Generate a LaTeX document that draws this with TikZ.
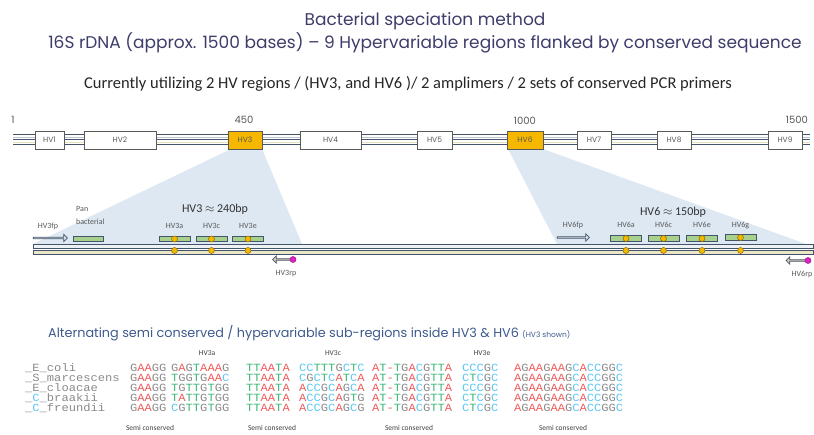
\documentclass[tikz,border=0pt]{standalone}
\usepackage{fontspec}
\setmainfont{Carlito}
\newfontfamily\gothic{Poppins}
\newfontfamily\mono[FakeStretch=1.1]{Liberation Mono}
\usetikzlibrary{shapes.arrows}
\definecolor{titleblue}{HTML}{3D3D6B}
\definecolor{subblue}{HTML}{3E5A8E}
\definecolor{slate}{HTML}{44546A}
\definecolor{slatelt}{HTML}{7A8A9A}
\definecolor{beige}{HTML}{E8E0B8}
\definecolor{railtop}{HTML}{EEF2F4}
\definecolor{railbot}{HTML}{ECE6C8}
\definecolor{hvorange}{HTML}{F5B700}
\definecolor{shadeblue}{HTML}{DDE8F3}
\definecolor{boxgreen}{HTML}{A9D18E}
\definecolor{dotorange}{HTML}{F5B800}
\definecolor{dotedge}{HTML}{8A6A00}
\definecolor{rpmag}{HTML}{E020C0}
\definecolor{fparrow}{HTML}{DDE8EE}
\definecolor{rparrow}{HTML}{E2D8B0}
\definecolor{labgray}{HTML}{595959}
\definecolor{ntA}{HTML}{F25C5C}
\definecolor{ntC}{HTML}{5BC8F5}
\definecolor{ntG}{HTML}{8A8A8A}
\definecolor{ntT}{HTML}{3CB878}
\newcommand\sqseq[1]{\sqloop#1\relax}
\def\sqloop#1{\ifx#1\relax\else\sqchar{#1}\expandafter\sqloop\fi}
\def\sqchar#1{\ifx#1A\textcolor{ntA}{A}\else\ifx#1C\textcolor{ntC}{C}\else\ifx#1G\textcolor{ntG}{G}\else\ifx#1T\textcolor{ntT}{T}\else\textcolor{ntA}{#1}\fi\fi\fi\fi}
\newcommand\sqx[1]{\expandafter\sqseq\expandafter{#1}}
\begin{document}
\begin{tikzpicture}[x=1pt,y=-1pt,
  hvbox/.style={draw=black!65, line width=0.8pt, fill=white, minimum height=18pt, inner sep=0pt,
    font=\gothic\fontsize{7.5}{9}\selectfont, text=labgray},
  hvsel/.style={hvbox, fill=hvorange},
  numlab/.style={font=\gothic\fontsize{10}{12}\selectfont, text=labgray, inner sep=0pt},
  smalllab/.style={font=\fontsize{8}{10}\selectfont, text=labgray, inner sep=0pt},
  sizelab/.style={font=\fontsize{12}{14}\selectfont, text=black!80, inner sep=0pt},
  subbox/.style={draw=slate, line width=0.7pt, fill=boxgreen, minimum width=31pt, minimum height=5.5pt, inner sep=0pt},
  snp/.style={circle, draw=dotedge, line width=0.5pt, fill=dotorange, minimum size=6pt, inner sep=0pt},
  rpdot/.style={circle, draw=rpmag!70!black, line width=0.5pt, fill=rpmag, minimum size=6pt, inner sep=0pt},
  fwd/.style={single arrow, draw=slate, line width=0.7pt, fill=fparrow, minimum width=7pt,
    single arrow head extend=1.5pt, single arrow head indent=0pt, inner sep=0pt},
  rev/.style={fwd, fill=rparrow, shape border rotate=180},
  seq/.style={font=\mono\fontsize{11}{11}\selectfont, anchor=base west, inner sep=0pt},
  spname/.style={seq, text=ntG},
  colhead/.style={font=\fontsize{7.5}{9}\selectfont, text=black!75, inner sep=0pt},
  semilab/.style={font=\fontsize{7.5}{9}\selectfont, text=black!75, inner sep=0pt}]
\fill[white] (0,0) rectangle (814,435);
\useasboundingbox (0,0) rectangle (814,435);

% titles
\node[font=\gothic\fontsize{17}{19}\selectfont, text=titleblue, inner sep=0pt] (t1) at (425,21) {Bacterial speciation method};
\node[font=\gothic\fontsize{17}{19}\selectfont, text=titleblue, inner sep=0pt] (t2) at (425,43) {16S rDNA (approx. 1500 bases) – 9 Hypervariable regions flanked by conserved sequence};
\node[font=\fontsize{16.5}{18}\selectfont, text=black!85, inner sep=0pt] (t3) at (408,84) {Currently utilizing 2 HV regions / (HV3, and HV6 )/ 2 amplimers / 2 sets of conserved PCR primers};

% zoom shading
\fill[shadeblue] (231,149) -- (262,149) -- (302,244) -- (33,244) -- cycle;
\fill[shadeblue] (508,149) -- (543,149) -- (806,244) -- (557,244) -- cycle;

% genome bar
\draw[slate, line width=1pt] (13,135) -- (810,135);
\draw[slatelt!50, line width=1.2pt] (13,137.5) -- (810,137.5);
\draw[slate, line width=1pt] (13,140) -- (810,140);
\draw[beige, line width=1.4pt] (13,142.5) -- (810,142.5);
\draw[slate, line width=1pt] (13,145) -- (810,145);

\node[hvbox, minimum width=29pt] (hv1) at (49.5,140) {HV1};
\node[hvbox, minimum width=72pt] (hv2) at (120,140) {HV2};
\node[hvsel, minimum width=34pt] (hv3) at (245,140) {HV3};
\node[hvbox, minimum width=61pt] (hv4) at (330.5,140) {HV4};
\node[hvbox, minimum width=35pt] (hv5) at (434.5,140) {HV5};
\node[hvsel, minimum width=36pt] (hv6) at (525,140) {HV6};
\node[hvbox, minimum width=34pt] (hv7) at (594,140) {HV7};
\node[hvbox, minimum width=34pt] (hv8) at (674,140) {HV8};
\node[hvbox, minimum width=34pt] (hv9) at (785,140) {HV9};

\node[numlab] (n1) at (13,120) {1};
\node[numlab] (n450) at (244,120) {450};
\node[numlab] (n1000) at (525,121) {1000};
\node[numlab] (n1500) at (797,120) {1500};

% double strand
\draw[slate, line width=0.8pt, fill=railtop] (33,244) rectangle (813,248);
\draw[slate, line width=0.8pt, fill=railbot] (33,250.5) rectangle (813,254.5);

% HV3 amplicon
\node[fwd, minimum height=34pt] (hv3fp) at (50,238) {};
\node[smalllab] (hv3fpl) at (48,226) {HV3fp};
\node[draw=slate, line width=0.7pt, fill=boxgreen, minimum width=30pt, minimum height=5pt, inner sep=0pt] (pan) at (88,238.5) {};
\node[smalllab, anchor=north west, align=left, font=\fontsize{8}{13}\selectfont] (panl) at (76,206) {Pan\\bacterial};
\node[sizelab] (hv3size) at (215,209) {HV3 $\approx$ 240bp};
\foreach \nm/\xx in {a/174.5, c/211.5, e/248} {
  \node[subbox] (hv3\nm) at (\xx,239) {};
  \node[smalllab] (hv3\nm l) at (\xx,226) {HV3\nm};
  \node[snp] (hv3\nm d) at (\xx,239) {};
  \node[snp] (hv3\nm s) at (\xx,250.5) {};
}
\node[rev, minimum height=20pt] (hv3rp) at (283,259.5) {};
\node[rpdot] (hv3rpd) at (293,259.5) {};
\node[smalllab] (hv3rpl) at (286,274) {HV3rp};

% HV6 amplicon
\node[fwd, minimum height=32pt] (hv6fp) at (573,237.5) {};
\node[smalllab] (hv6fpl) at (573,225) {HV6fp};
\node[sizelab] (hv6size) at (673,212) {HV6 $\approx$ 150bp};
\foreach \nm/\xx/\yy in {a/626/238.5, c/663.5/238.5, e/702/238.5, g/740.5/237.5} {
  \node[subbox] (hv6\nm) at (\xx,\yy) {};
  \node[smalllab] (hv6\nm l) at (\xx,225) {HV6\nm};
  \node[snp] (hv6\nm d) at (\xx,\yy) {};
  \node[snp] (hv6\nm s) at (\xx,250.5) {};
}
\node[rev, minimum height=21pt] (hv6rp) at (797,260.5) {};
\node[rpdot] (hv6rpd) at (808,260.5) {};
\node[smalllab] (hv6rpl) at (802,274) {HV6rp};

% alignment section
\node[anchor=base west, inner sep=0pt, text=subblue] (alt) at (48,338)
  {\gothic\fontsize{12.8}{15}\selectfont Alternating semi conserved / hypervariable sub-regions inside HV3 \& HV6 \fontsize{7.5}{9}\selectfont (HV3 shown)};
\node[colhead] (ch3a) at (207,353) {HV3a};
\node[colhead] (ch3c) at (333,353) {HV3c};
\node[colhead] (ch3e) at (482,353) {HV3e};

\foreach [count=\r] \sp/\ga/\gb/\gc/\gd/\ge/\gf/\gg in {
  {\_E\_coli}/GAAGG/GAGTAAAG/TTAATA/CCTTTGCTC/AT-TGACGTTA/CCCGC/AGAAGAAGCACCGGC,
  {\_S\_marcescens}/GAAGG/TGGTGAAC/TTAATA/CGCTCATCA/AT-TGACGTTA/CTCGC/AGAAGAAGCACCGGC,
  {\_E\_cloacae}/GAAGG/TGTTGTGG/TTAATA/ACCGCAGCA/AT-TGACGTTA/CCCGC/AGAAGAAGCACCGGC,
  {\_\textcolor{ntC}{C}\_braakii}/GAAGG/TATTGTGG/TTAATA/ACCGCAGTG/AT-TGACGTTA/CTCGC/AGAAGAAGCACCGGC,
  {\_\textcolor{ntC}{C}\_freundii}/GAAGG/CGTTGTGG/TTAATA/ACCGCAGCG/AT-TGACGTTA/CTCGC/AGAAGAAGCACCGGC} {
  \pgfmathsetmacro\yb{358+10*\r+3.5}
  \node[spname] (sp\r) at (25,\yb) {\sp};
  \node[seq] (s\r a) at (130,\yb) {\sqx{\ga}};
  \node[seq] (s\r b) at (171,\yb) {\sqx{\gb}};
  \node[seq] (s\r c) at (246,\yb) {\sqx{\gc}};
  \node[seq] (s\r d) at (299,\yb) {\sqx{\gd}};
  \node[seq] (s\r e) at (372,\yb) {\sqx{\ge}};
  \node[seq] (s\r f) at (462,\yb) {\sqx{\gf}};
  \node[seq] (s\r g) at (514,\yb) {\sqx{\gg}};
}

\node[semilab] (sc1) at (150,428) {Semi conserved};
\node[semilab] (sc2) at (272,428) {Semi conserved};
\node[semilab] (sc3) at (409,428) {Semi conserved};
\node[semilab] (sc4) at (563,428) {Semi conserved};
\end{tikzpicture}
\end{document}
